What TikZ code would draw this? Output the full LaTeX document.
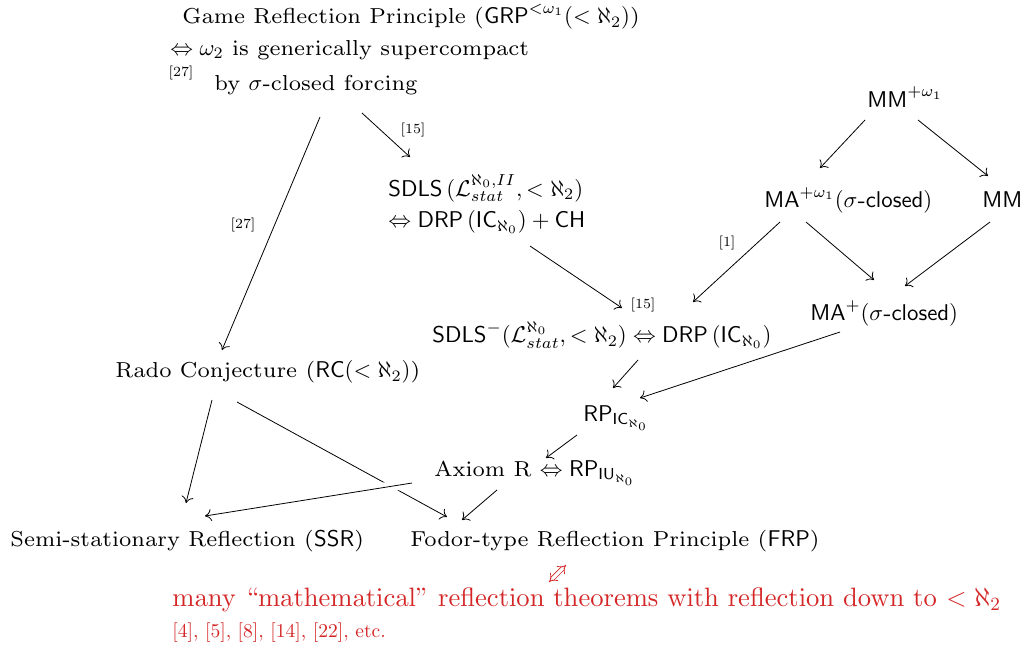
\RequirePackage{fix-cm}
\documentclass[tikz,border=0pt]{standalone}
\usepackage{amsmath}
\usetikzlibrary{arrows.meta}
\definecolor{myred}{RGB}{212,38,38}
\DeclareFontFamily{OT1}{cmrseven}{}
\DeclareFontShape{OT1}{cmrseven}{m}{n}{<-> s*[0.95] cmr7}{}
\DeclareFontFamily{OT1}{cmrten}{}
\DeclareFontShape{OT1}{cmrten}{m}{n}{<-> cmr10}{}
\begin{document}
\begin{tikzpicture}[x=0.5pt,y=-0.5pt,
  txt/.style={anchor=west, inner sep=0pt, font=\fontsize{11.4}{13}\fontencoding{OT1}\fontfamily{cmrseven}\selectfont},
  cite/.style={inner sep=0pt, font=\fontsize{7}{8}\selectfont},
  arr/.style={draw, line width=0.4pt, -{To[length=3.2pt,width=6pt]}},
  redtxt/.style={anchor=west, inner sep=0pt, text=myred, font=\fontsize{13.3}{15}\fontencoding{OT1}\fontfamily{cmrten}\selectfont},
  redcite/.style={anchor=west, inner sep=0pt, text=myred, font=\fontsize{9.8}{11}\selectfont}]
\useasboundingbox (0,0) rectangle (1027,650);

% nodes
\node[txt] (g1) at (182,17) {Game Reflection Principle ($\mathsf{GRP}^{<\omega_1}(<\aleph_2)$)};
\node[txt] (g2) at (170,50) {$\Leftrightarrow \omega_2$ is generically supercompact};
\node[txt] (g3) at (214,85) {by $\sigma$-closed forcing};
\node[cite] (c27a) at (181,73) {[27]};

\node[txt] (sd1) at (388,188) {$\mathsf{SDLS}\,(\mathcal{L}^{\aleph_0,II}_{stat},<\aleph_2)$};
\node[txt] (sd2) at (388,222) {$\Leftrightarrow \mathsf{DRP}\,(\mathsf{IC}_{\aleph_0}) + \mathsf{CH}$};
\node[txt] (sdm) at (432,335) {$\mathsf{SDLS}^-(\mathcal{L}^{\aleph_0}_{stat},<\aleph_2) \Leftrightarrow \mathsf{DRP}\,(\mathsf{IC}_{\aleph_0})$};

\node[txt] (mmw) at (867,97) {$\mathsf{MM}^{+\omega_1}$};
\node[txt] (maw) at (764,200) {$\mathsf{MA}^{+\omega_1}(\sigma\text{-}\mathsf{closed})$};
\node[txt] (mm) at (982,200) {$\mathsf{MM}$};
\node[txt] (map) at (810,313) {$\mathsf{MA}^{+}(\sigma\text{-}\mathsf{closed})$};

\node[txt] (rado) at (115,372) {Rado Conjecture ($\mathsf{RC}(<\aleph_2)$)};
\node[txt] (rpic) at (583,418) {$\mathsf{RP}_{\mathsf{IC}_{\aleph_0}}$};
\node[txt] (axr) at (434,473) {Axiom R $\Leftrightarrow \mathsf{RP}_{\mathsf{IU}_{\aleph_0}}$};
\node[txt] (ssr) at (10,541) {Semi-stationary Reflection ($\mathsf{SSR}$)};
\node[txt] (frp) at (410,541) {Fodor-type Reflection Principle ($\mathsf{FRP}$)};

\node[redtxt] (red1) at (172,600) {many ``mathematical'' reflection theorems with reflection down to $<\aleph_2$};
\node[redcite] (red2) at (172,633) {[4], [5], [8], [14], [22], etc.};

\node[cite] (c27b) at (243,225) {[27]};
\node[cite] (c15a) at (413,130) {[15]};
\node[cite] (c15b) at (643,305) {[15]};
\node[cite] (c1) at (727,243) {[1]};

% connectors
\draw[arr] ([shift={(106,32)}]g3.west) -- ([shift={(107,-22)}]rado.west);
\draw[arr] ([shift={(148,28)}]g3.west) -- ([shift={(22,-31)}]sd1.west);
\draw[arr] ([shift={(142,24)}]sd2.west) -- ([shift={(190,-27)}]sdm.west);
\draw[arr] ([shift={(-2,23)}]mmw.west) -- ([shift={(56,-32)}]maw.west);
\draw[arr] ([shift={(51,23)}]mmw.west) -- ([shift={(6,-24)}]mm.west);
\draw[arr] ([shift={(42,22)}]maw.west) -- ([shift={(64,-33)}]map.west);
\draw[arr] ([shift={(8,22)}]mm.west) -- ([shift={(95,-27)}]map.west);
\draw[arr] ([shift={(16,22)}]maw.west) -- ([shift={(261,-33)}]sdm.west);
\draw[arr] ([shift={(30,19)}]map.west) -- ([shift={(57,-20)}]rpic.west);
\draw[arr] ([shift={(206,25)}]sdm.west) -- ([shift={(30,-30)}]rpic.west);
\draw[arr] ([shift={(-6,17)}]rpic.west) -- ([shift={(112,-15)}]axr.west);
\draw[arr] ([shift={(63,17)}]axr.west) -- ([shift={(52,-21)}]frp.west);
\draw[arr] ([shift={(97,28)}]rado.west) -- ([shift={(176,-38)}]ssr.west);
\draw[arr] ([shift={(122,30)}]rado.west) -- ([shift={(37,-24)}]frp.west);
\draw[arr, preaction={draw=white, line width=5pt, -, shorten >=6pt}] ([shift={(-22,10)}]axr.west) -- ([shift={(195,-25)}]ssr.west);

\draw[myred, line width=0.4pt, double, double distance=1.6pt, {Implies}-{Implies}]
  ([shift={(377,-18)}]red1.west) -- ([shift={(394,-35)}]red1.west);
\end{tikzpicture}
\end{document}
